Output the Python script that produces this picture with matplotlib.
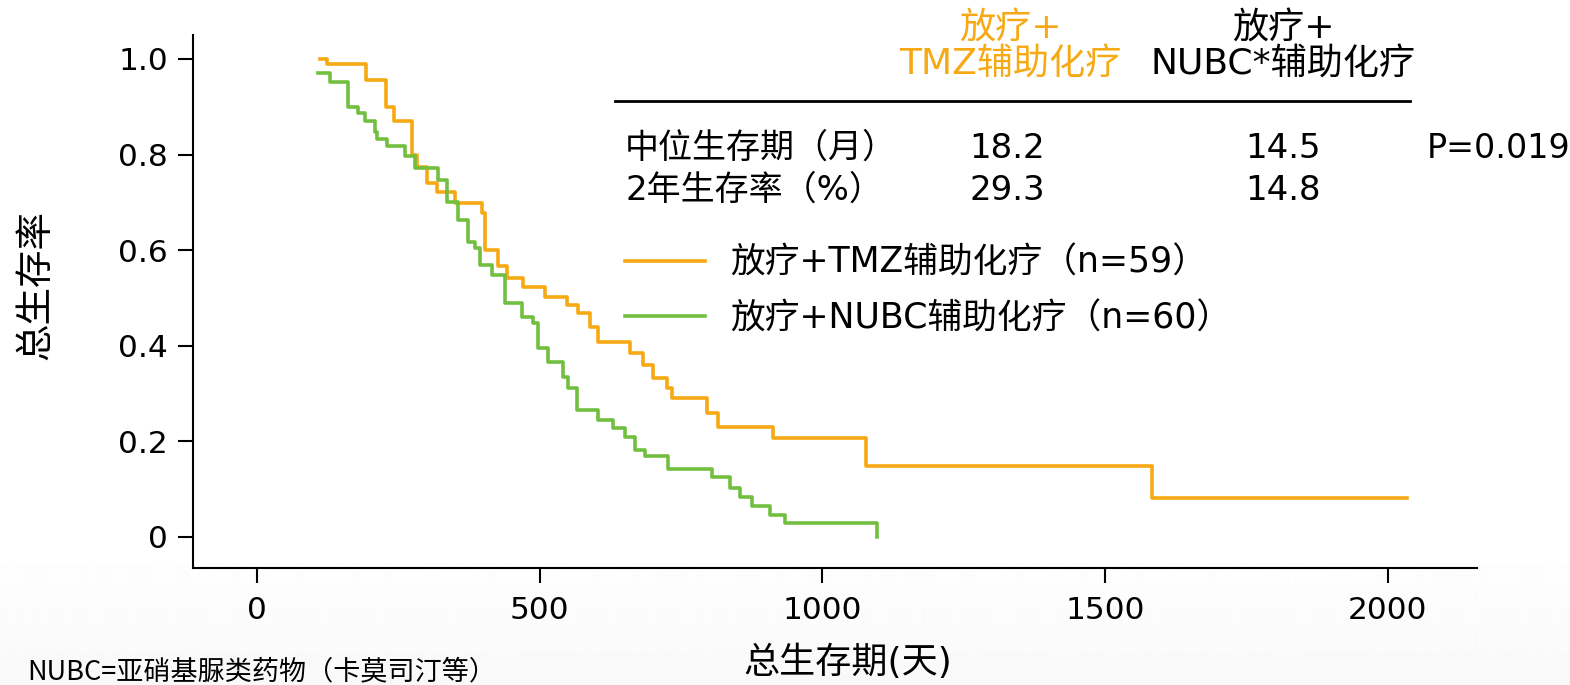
import numpy as np
import matplotlib
matplotlib.use('Agg')
import matplotlib.pyplot as plt

plt.rcParams['font.family'] = ['DejaVu Sans', 'Noto Sans CJK SC']

# Kaplan-Meier steps (day, survival)
tmz_days = [111, 124, 193, 228, 242, 274, 283, 301, 318, 350, 398, 403, 426, 442,
            471, 510, 548, 568, 589, 603, 660, 683, 701, 725, 734, 796, 816, 913,
            1078, 1584, 2035]
tmz_surv = [1.0, 0.990, 0.956, 0.900, 0.870, 0.799, 0.774, 0.741, 0.722, 0.699,
            0.678, 0.600, 0.567, 0.542, 0.523, 0.502, 0.485, 0.469, 0.439, 0.408,
            0.385, 0.360, 0.333, 0.312, 0.291, 0.259, 0.230, 0.207, 0.149, 0.082,
            0.082]

nubc_days = [108, 129, 161, 179, 191, 209, 212, 230, 262, 280, 320, 336, 356, 373,
             386, 395, 416, 439, 469, 488, 497, 515, 541, 550, 566, 603, 630, 651,
             669, 687, 727, 805, 837, 855, 876, 908, 934, 1097]
nubc_surv = [0.971, 0.952, 0.900, 0.887, 0.870, 0.847, 0.833, 0.818, 0.797, 0.772,
             0.747, 0.701, 0.663, 0.617, 0.605, 0.569, 0.548, 0.490, 0.460, 0.448,
             0.395, 0.366, 0.335, 0.312, 0.266, 0.245, 0.228, 0.209, 0.182, 0.170,
             0.142, 0.126, 0.103, 0.084, 0.065, 0.046, 0.029, 0.0]

x_ticks = [0, 500, 1000, 1500, 2000]
y_ticks = [0, 0.2, 0.4, 0.6, 0.8, 1.0]
y_ticklabels = ['0', '0.2', '0.4', '0.6', '0.8', '1.0']

arms = ['放疗+TMZ辅助化疗（n=59）', '放疗+NUBC辅助化疗（n=60）']
col_heads = ['放疗+\nTMZ辅助化疗', '放疗+\nNUBC*辅助化疗']
row_names = ['中位生存期（月）', '2年生存率（%）']
median_os = ['18.2', '14.5']
os_2yr = ['29.3', '14.8']
p_value = 'P=0.019'

ORANGE = '#F6A912'
GREEN = '#72BF3F'

W, H = 1570, 685
fig = plt.figure(figsize=(W / 100, H / 100), dpi=100, facecolor='white')

def fx(px):
    return px / W

def fy(py):
    return 1 - py / H

# faint grey fade at the bottom, like the slide background
bg = fig.add_axes([0, 0, 1, 1], zorder=-5)
grad = np.ones((H, 2))
grad[540:, :] = np.linspace(1.0, 0.975, H - 540)[:, None]
bg.imshow(grad, cmap='gray', vmin=0, vmax=1, aspect='auto', extent=[0, 1, 0, 1])
bg.axis('off')

ax = fig.add_axes([fx(193), fy(568), fx(1477) - fx(193), fy(35) - fy(568)])
ax.patch.set_alpha(0)

ax.plot(tmz_days, tmz_surv, drawstyle='steps-post', color=ORANGE, lw=2.6, label=arms[0])
ax.plot(nubc_days, nubc_surv, drawstyle='steps-post', color=GREEN, lw=2.6, label=arms[1])

ax.set_xlim(-113, 2158)
ax.set_ylim(-0.065, 1.05)
ax.set_xticks(x_ticks)
ax.set_yticks(y_ticks)
ax.set_yticklabels(y_ticklabels)
for s in ['top', 'right']:
    ax.spines[s].set_visible(False)
for s in ['left', 'bottom']:
    ax.spines[s].set_linewidth(1.5)
ax.tick_params(direction='out', length=11, width=1.5, labelsize=22.5, pad=7)
ax.tick_params(axis='x', pad=9)

ax.set_xlabel('总生存期(天)', fontsize=26)
ax.xaxis.set_label_coords((848 - 193) / 1284, -(645 - 568) / 533)
ax.set_ylabel('总生存率', fontsize=27)
ax.yaxis.set_label_coords(-(193 - 54) / 1284, (568 - 285) / 533)

ax.legend(loc='upper left', bbox_to_anchor=(fx(625), fy(246)), bbox_transform=fig.transFigure,
          frameon=False, fontsize=25, handlelength=2.3, handletextpad=0.72,
          labelspacing=0.62, borderaxespad=0, borderpad=0)

# summary table
fig.text(fx(1010), fy(46), col_heads[0], color=ORANGE, fontsize=26, ha='center', va='center',
         linespacing=1.05)
fig.text(fx(1283), fy(46), col_heads[1], color='black', fontsize=26, ha='center', va='center',
         linespacing=1.05)
ax.plot([fx(615), fx(1410)], [fy(101), fy(101)], color='black', lw=2,
        transform=fig.transFigure, clip_on=False)

for i, (name, y) in enumerate(zip(row_names, [148, 190])):
    fig.text(fx(625), fy(y), name, fontsize=24.5, ha='left', va='center')
    fig.text(fx(1007), fy(y), [median_os, os_2yr][i][0], fontsize=24.5, ha='center', va='center')
    fig.text(fx(1283), fy(y), [median_os, os_2yr][i][1], fontsize=24.5, ha='center', va='center')
fig.text(fx(1427), fy(148), p_value, fontsize=24, ha='left', va='center')

fig.text(fx(27), fy(672), 'NUBC=亚硝基脲类药物（卡莫司汀等）', fontsize=19.5, ha='left', va='center',
         family=['Noto Sans CJK SC'])

fig.savefig('out.png', dpi=100)
